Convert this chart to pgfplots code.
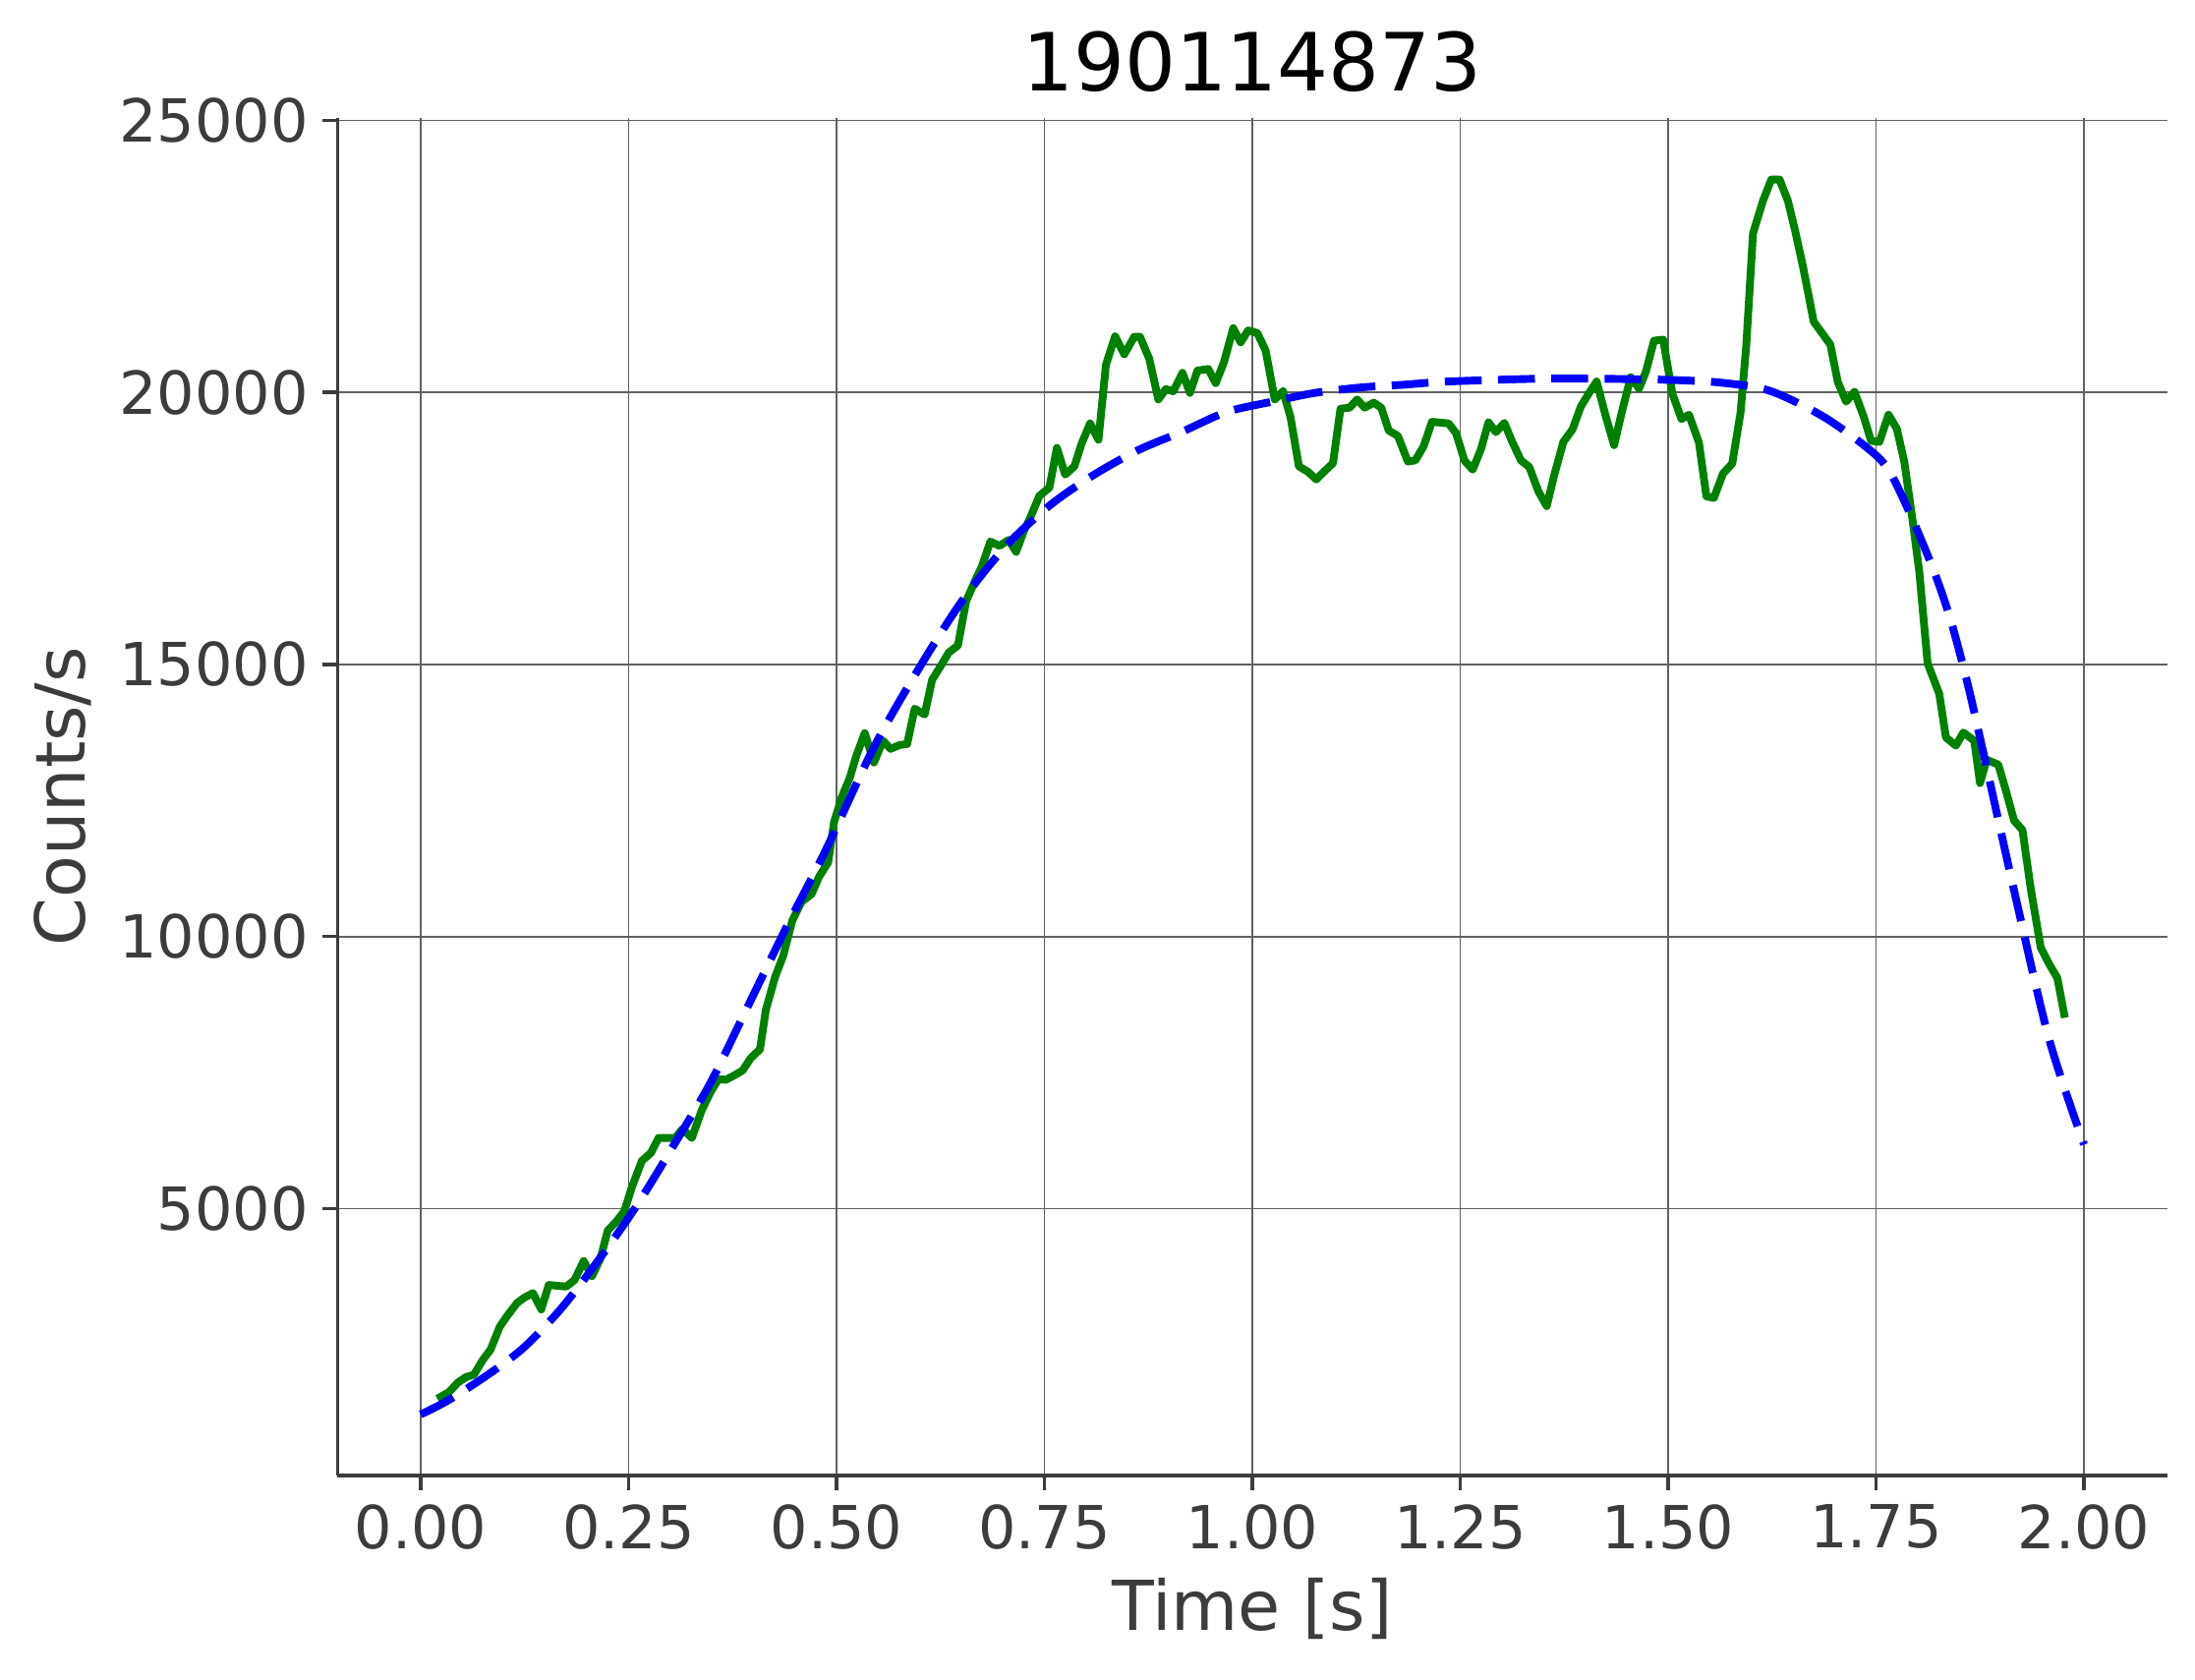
\documentclass[border=0pt]{standalone}
\usepackage{pgfplots}
\pgfplotsset{compat=1.18}
\usepackage{fontspec}
\setmainfont{DejaVu Sans}
\definecolor{spine}{HTML}{3C3C3C}
\definecolor{mplgreen}{HTML}{008000}
\definecolor{mplblue}{HTML}{0000FF}

\pgfplotstableread{
t c
0.020 1510
0.034 1630
0.045 1810
0.055 1910
0.064 1950
0.075 2230
0.084 2410
0.095 2830
0.104 3030
0.116 3270
0.125 3370
0.135 3450
0.145 3150
0.154 3600
0.175 3570
0.185 3690
0.196 4040
0.206 3760
0.216 4080
0.225 4600
0.235 4760
0.245 4960
0.254 5400
0.266 5880
0.277 6030
0.286 6300
0.306 6300
0.315 6470
0.326 6300
0.338 6810
0.348 7130
0.358 7380
0.367 7370
0.377 7450
0.387 7540
0.397 7770
0.408 7930
0.415 8650
0.426 9250
0.436 9650
0.447 10300
0.458 10640
0.470 10780
0.479 11100
0.490 11364
0.497 12100
0.506 12550
0.516 12920
0.524 13330
0.534 13740
0.545 13200
0.556 13600
0.565 13450
0.576 13520
0.585 13540
0.594 14190
0.606 14080
0.615 14720
0.624 14940
0.635 15220
0.646 15350
0.656 16170
0.667 16550
0.675 16810
0.685 17260
0.696 17180
0.707 17290
0.716 17070
0.725 17440
0.733 17700
0.744 18100
0.756 18250
0.765 18980
0.775 18490
0.786 18640
0.795 19070
0.805 19430
0.815 19130
0.824 20510
0.835 21030
0.846 20700
0.858 21020
0.865 21020
0.876 20620
0.887 19870
0.896 20060
0.905 20020
0.916 20360
0.925 19990
0.934 20400
0.947 20430
0.956 20170
0.966 20560
0.977 21180
0.986 20920
0.995 21140
1.006 21090
1.016 20770
1.027 19870
1.037 20020
1.046 19540
1.056 18640
1.067 18540
1.077 18400
1.086 18540
1.097 18700
1.106 19700
1.117 19720
1.126 19870
1.135 19720
1.146 19810
1.155 19720
1.164 19300
1.175 19200
1.187 18730
1.196 18750
1.206 19010
1.216 19460
1.236 19430
1.245 19250
1.255 18750
1.265 18580
1.275 18960
1.284 19450
1.293 19270
1.303 19440
1.312 19110
1.323 18750
1.333 18630
1.344 18180
1.354 17910
1.363 18480
1.374 19090
1.385 19320
1.395 19740
1.405 19990
1.414 20200
1.425 19560
1.435 19030
1.444 19620
1.455 20280
1.465 20070
1.473 20370
1.483 20950
1.494 20970
1.505 19980
1.516 19510
1.525 19590
1.537 19080
1.546 18090
1.555 18060
1.566 18510
1.577 18690
1.587 19620
1.594 20880
1.602 22920
1.614 23520
1.624 23910
1.634 23910
1.644 23520
1.653 22950
1.662 22320
1.675 21300
1.685 21090
1.695 20880
1.704 20190
1.714 19830
1.724 20010
1.735 19560
1.744 19110
1.754 19090
1.765 19590
1.775 19330
1.784 18720
1.794 17640
1.802 16700
1.812 15020
1.826 14460
1.834 13660
1.846 13510
1.855 13750
1.868 13600
1.875 12820
1.883 13250
1.897 13160
1.906 12690
1.916 12130
1.926 11960
1.936 10880
1.948 9800
1.958 9500
1.968 9240
1.977 8510
}\lightcurve

\pgfplotstableread{
t c
0.000 1220
0.032 1470
0.077 1910
0.1225 2430
0.168 3150
0.213 4040
0.259 5040
0.304 6160
0.349 7330
0.395 8770
0.440 10180
0.4855 11540
0.545 13480
0.598 14900
0.651 16170
0.704 17180
0.757 17930
0.810 18490
0.863 18940
0.916 19280
0.969 19640
1.024 19830
1.075 19990
1.130 20090
1.181 20140
1.236 20200
1.341 20250
1.420 20250
1.500 20230
1.563 20180
1.622 20030
1.685 19570
1.737 19010
1.764 18600
1.790 17800
1.820 16700
1.840 15800
1.860 14650
1.879 13380
1.918 10710
1.958 8120
2.000 6180
}\fitcurve

\begin{document}
\begin{tikzpicture}
% page size fixed to the reference proportions
\useasboundingbox (-82.4pt,-49.9pt) rectangle (453.5pt,360.2pt);
\begin{axis}[
    at={(0,0)}, anchor=south west,
    scale only axis,
    width=446.7pt, height=331.5pt,
    xmin=-0.1, xmax=2.1,
    ymin=100, ymax=25050,
    xtick={0,0.25,...,2},
    ytick={5000,10000,...,25000},
    scaled y ticks=false,
    xticklabel style={/pgf/number format/fixed, /pgf/number format/fixed zerofill, /pgf/number format/precision=2},
    yticklabel style={/pgf/number format/fixed, /pgf/number format/1000 sep={}},
    /pgf/number format/assume math mode=true,
    axis x line*=bottom, axis y line*=left,
    axis line style={-, draw=spine, line width=0.85pt},
    tick align=outside,
    major tick length=3.6pt,
    tick style={draw=spine, line width=0.8pt},
    ticklabel style={font=\fontsize{14.5}{17}\selectfont, text=spine},
    grid=major,
    major grid style={draw=black!62, line width=0.4pt},
    title={190114873},
    title style={font=\fontsize{19.6}{23}\selectfont, text=black, yshift=-3.4pt},
    xlabel={Time [s]},
    ylabel={Counts/s},
    label style={font=\fontsize{16.8}{20}\selectfont, text=spine},
]
\addplot[color=mplgreen, line width=1.9pt, line join=round] table[x=t, y=c] {\lightcurve};
\addplot[color=mplblue, line width=1.9pt, dash pattern=on 9pt off 4pt, smooth] table[x=t, y=c] {\fitcurve};
\end{axis}
\end{tikzpicture}
\end{document}
